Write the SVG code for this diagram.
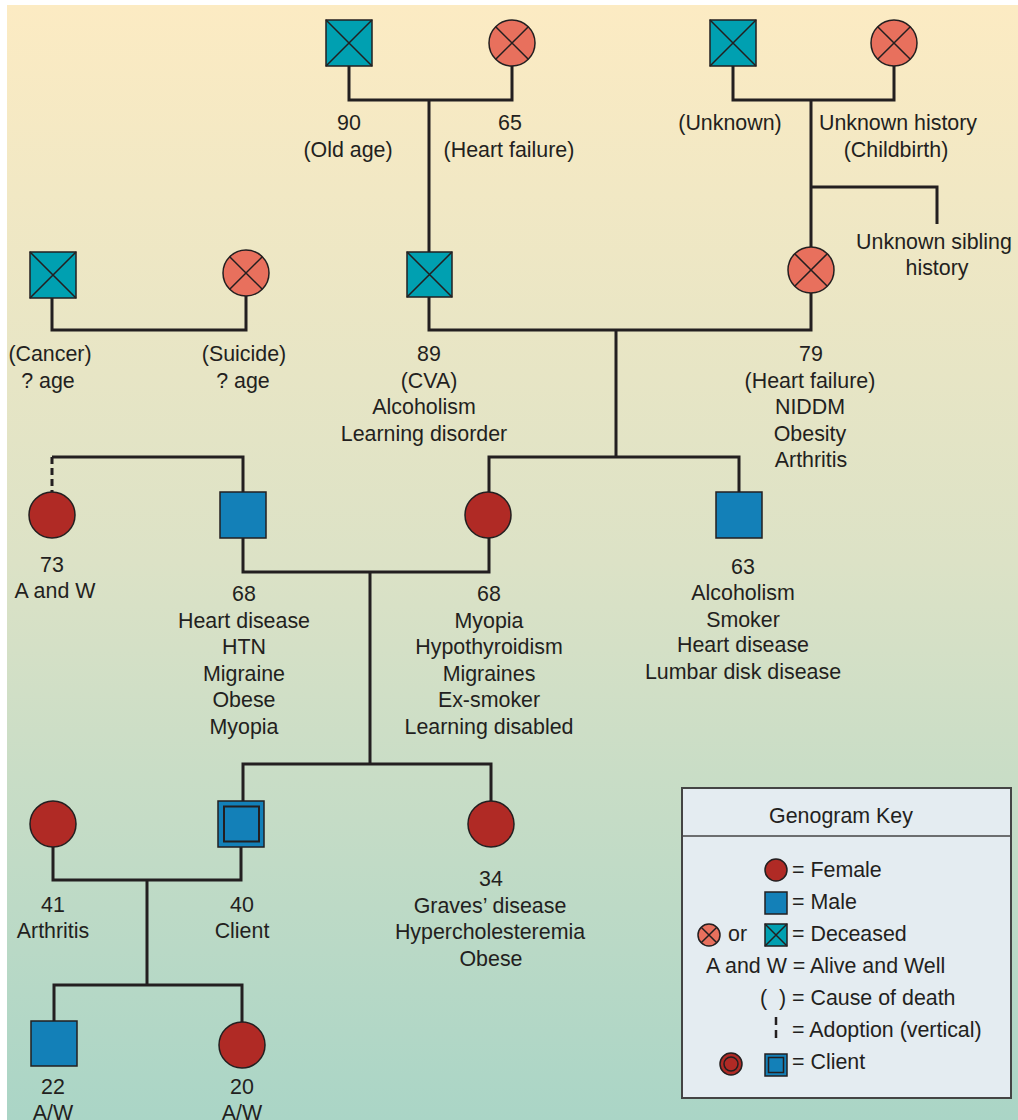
<svg xmlns="http://www.w3.org/2000/svg" width="1018" height="1120" viewBox="0 0 1018 1120">
<defs>
<linearGradient id="bg" x1="0" y1="0" x2="0" y2="1">
<stop offset="0" stop-color="#FCEBC3"/>
<stop offset="0.5" stop-color="#DCE2C6"/>
<stop offset="1" stop-color="#AAD5C6"/>
</linearGradient>
</defs>
<style>
.t{font-family:"Liberation Sans",Arial,Helvetica,sans-serif;font-size:21.4px;fill:#231f20;text-anchor:middle}
.k{font-family:"Liberation Sans",Arial,Helvetica,sans-serif;font-size:21.4px;fill:#231f20}
.c{fill:none;stroke:#231f20;stroke-width:3}
.dash{fill:none;stroke:#231f20;stroke-width:3;stroke-dasharray:7 4}
.ms{fill:#00A0B1;stroke:#231f20;stroke-width:1.5}
.fs{fill:#E8705D;stroke:#231f20;stroke-width:1.5}
.m{fill:#1380B8;stroke:#231f20;stroke-width:1.5}
.f{fill:#B02A25;stroke:#231f20;stroke-width:1.5}
.x{stroke:#231f20;stroke-width:1.5}
</style>
<rect x="7" y="5" width="1011" height="1115" fill="url(#bg)"/>

<g id="connectors">
<path class="c" d="M349 66 V100 H512 V66 M429 100 V252"/>
<path class="c" d="M733 66 V100 H894 V66 M811 100 V247 M811 187 H937 V224"/>
<path class="c" d="M52 298 V330 H246 V296"/>
<path class="c" d="M429 297 V330 H811 V293 M616 330 V457"/>
<path class="c" d="M489 492 V457 H739 V492"/>
<path class="c" d="M52 457 H243 V492"/>
<path class="dash" d="M52 457 V492"/>
<path class="c" d="M243 538 V572 H489 V538 M370 572 V764"/>
<path class="c" d="M243 801 V764 H491 V801"/>
<path class="c" d="M53 847 V880 H241 V846 M147 880 V985"/>
<path class="c" d="M54 1021 V985 H242 V1022"/>
</g>

<g id="pgf">
<rect class="ms" x="326" y="20" width="46" height="46"/>
<path class="x" d="M326 20 L372 66 M372 20 L326 66"/>
<text class="t" x="349" y="130">90</text>
<text class="t" x="348" y="157">(Old age)</text>
</g>
<g id="pgm">
<circle class="fs" cx="512" cy="43" r="23"/>
<path class="x" d="M495.7 26.7 L528.3 59.3 M528.3 26.7 L495.7 59.3"/>
<text class="t" x="510" y="130">65</text>
<text class="t" x="509" y="157">(Heart failure)</text>
</g>
<g id="mgf">
<rect class="ms" x="710" y="20" width="46" height="46"/>
<path class="x" d="M710 20 L756 66 M756 20 L710 66"/>
<text class="t" x="730" y="130">(Unknown)</text>
</g>
<g id="mgm">
<circle class="fs" cx="894" cy="43" r="23"/>
<path class="x" d="M877.7 26.7 L910.3 59.3 M910.3 26.7 L877.7 59.3"/>
<text class="t" x="898" y="130">Unknown history</text>
<text class="t" x="896" y="157">(Childbirth)</text>
</g>
<g id="sibling">
<text class="t" x="934" y="249">Unknown sibling</text>
<text class="t" x="937" y="275">history</text>
</g>
<g id="sgf">
<rect class="ms" x="30" y="252" width="46" height="46"/>
<path class="x" d="M30 252 L76 298 M76 252 L30 298"/>
<text class="t" x="50" y="361">(Cancer)</text>
<text class="t" x="48" y="388">? age</text>
</g>
<g id="sgm">
<circle class="fs" cx="246" cy="273" r="23"/>
<path class="x" d="M229.7 256.7 L262.3 289.3 M262.3 256.7 L229.7 289.3"/>
<text class="t" x="244" y="361">(Suicide)</text>
<text class="t" x="243" y="388">? age</text>
</g>
<g id="gf89">
<rect class="ms" x="407" y="252" width="45" height="45"/>
<path class="x" d="M407 252 L452 297 M452 252 L407 297"/>
<text class="t" x="429" y="361">89</text>
<text class="t" x="429" y="388">(CVA)</text>
<text class="t" x="424" y="414">Alcoholism</text>
<text class="t" x="424" y="441">Learning disorder</text>
</g>
<g id="gm79">
<circle class="fs" cx="811" cy="270" r="23"/>
<path class="x" d="M794.7 253.7 L827.3 286.3 M827.3 253.7 L794.7 286.3"/>
<text class="t" x="811" y="361">79</text>
<text class="t" x="810" y="388">(Heart failure)</text>
<text class="t" x="810" y="414">NIDDM</text>
<text class="t" x="810" y="441">Obesity</text>
<text class="t" x="811" y="467">Arthritis</text>
</g>
<g id="aunt73">
<circle class="f" cx="52" cy="515" r="23"/>
<text class="t" x="52" y="572">73</text>
<text class="t" x="55" y="598">A and W</text>
</g>
<g id="father68">
<rect class="m" x="220" y="492" width="46" height="46"/>
<text class="t" x="244" y="601">68</text>
<text class="t" x="244" y="628">Heart disease</text>
<text class="t" x="244" y="654">HTN</text>
<text class="t" x="244" y="681">Migraine</text>
<text class="t" x="244" y="707">Obese</text>
<text class="t" x="244" y="734">Myopia</text>
</g>
<g id="mother68">
<circle class="f" cx="488" cy="515" r="23"/>
<text class="t" x="489" y="601">68</text>
<text class="t" x="489" y="628">Myopia</text>
<text class="t" x="489" y="654">Hypothyroidism</text>
<text class="t" x="489" y="681">Migraines</text>
<text class="t" x="489" y="707">Ex-smoker</text>
<text class="t" x="489" y="734">Learning disabled</text>
</g>
<g id="uncle63">
<rect class="m" x="716" y="492" width="46" height="46"/>
<text class="t" x="743" y="574">63</text>
<text class="t" x="743" y="600">Alcoholism</text>
<text class="t" x="743" y="627">Smoker</text>
<text class="t" x="743" y="652">Heart disease</text>
<text class="t" x="743" y="679">Lumbar disk disease</text>
</g>
<g id="wife41">
<circle class="f" cx="53" cy="824" r="23"/>
<text class="t" x="53" y="912">41</text>
<text class="t" x="53" y="938">Arthritis</text>
</g>
<g id="client40">
<rect class="m" x="218" y="801" width="46" height="46"/>
<rect x="224" y="806.5" width="35" height="35" fill="none" stroke="#231f20" stroke-width="2"/>
<text class="t" x="242" y="912">40</text>
<text class="t" x="242" y="938">Client</text>
</g>
<g id="sister34">
<circle class="f" cx="491" cy="824" r="23"/>
<text class="t" x="491" y="886">34</text>
<text class="t" x="490" y="913">Graves’ disease</text>
<text class="t" x="490" y="939">Hypercholesteremia</text>
<text class="t" x="491" y="966">Obese</text>
</g>
<g id="son22">
<rect class="m" x="31" y="1021" width="46" height="45"/>
<text class="t" x="53" y="1094">22</text>
<text class="t" x="53" y="1120">A/W</text>
</g>
<g id="daughter20">
<circle class="f" cx="242" cy="1045" r="23"/>
<text class="t" x="242" y="1094">20</text>
<text class="t" x="242" y="1120">A/W</text>
</g>

<g id="key">
<rect x="682" y="788" width="329" height="310" fill="#E4ECF1" stroke="#444" stroke-width="2"/>
<line x1="682" y1="836" x2="1011" y2="836" stroke="#444" stroke-width="1.5"/>
<text class="t" x="841" y="823">Genogram Key</text>
<circle class="f" cx="776" cy="870" r="11"/>
<text class="k" x="792" y="877">= Female</text>
<rect class="m" x="765" y="892" width="22" height="22"/>
<text class="k" x="792" y="909">= Male</text>
<circle class="fs" cx="709" cy="935" r="11"/>
<path class="x" d="M701.2 927.2 L716.8 942.8 M716.8 927.2 L701.2 942.8"/>
<text class="k" x="728" y="941">or</text>
<rect class="ms" x="765" y="924" width="22" height="22"/>
<path class="x" d="M765 924 L787 946 M787 924 L765 946"/>
<text class="k" x="792" y="941">= Deceased</text>
<text class="k" x="706" y="973">A and W = Alive and Well</text>
<text class="k" x="760" y="1005">(</text>
<text class="k" x="779" y="1005">)</text>
<text class="k" x="792" y="1005">= Cause of death</text>
<line x1="776" y1="1017" x2="776" y2="1040" stroke="#231f20" stroke-width="2.5" stroke-dasharray="8 5"/>
<text class="k" x="792" y="1037">= Adoption (vertical)</text>
<circle class="f" cx="731" cy="1064" r="11"/>
<circle cx="731" cy="1064" r="7" fill="none" stroke="#231f20" stroke-width="1.5"/>
<rect class="m" x="765" y="1054" width="22" height="22"/>
<rect x="768.5" y="1057.5" width="15" height="15" fill="none" stroke="#231f20" stroke-width="1.5"/>
<text class="k" x="792" y="1069">= Client</text>
</g>
</svg>
